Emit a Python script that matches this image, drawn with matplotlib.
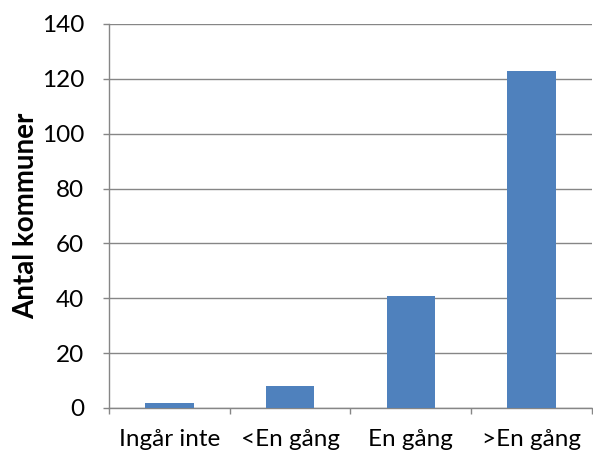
import matplotlib
matplotlib.use('Agg')
import matplotlib.pyplot as plt
import numpy as np

categories = ['Ingår inte', '<En gång', 'En gång', '>En gång']
values = [2, 8, 41, 123]
yticks = [0, 20, 40, 60, 80, 100, 120, 140]

plt.rcParams['font.family'] = ['Lato', 'DejaVu Sans']

fig = plt.figure(figsize=(5.93, 4.55), dpi=100)
ax = fig.add_axes([0.1838, 0.1033, 0.8145, 0.844])

x = np.arange(len(categories))
ax.bar(x, values, width=0.4, color='#4F81BD', zorder=3)

ax.set_xlim(-0.5, len(categories) - 0.5)
ax.set_ylim(0, 140)
ax.set_yticks(yticks)
ax.set_yticklabels([str(t) for t in yticks], fontsize=17.5)
ax.set_xticks(x)
ax.set_xticklabels(categories, fontsize=17.5)
ax.set_xticks(np.arange(len(categories) + 1) - 0.5, minor=True)
ax.tick_params(axis='x', which='major', length=0, pad=15)
ax.tick_params(axis='x', which='minor', length=4, color='#868686', width=1)
ax.tick_params(axis='y', length=4, color='#868686', width=1, pad=14)

ax.grid(axis='y', color='#868686', linewidth=1, zorder=0)
for s in ['top', 'right']:
    ax.spines[s].set_visible(False)
for s in ['left', 'bottom']:
    ax.spines[s].set_color('#868686')
    ax.spines[s].set_linewidth(1)

ax.set_ylabel('Antal kommuner', fontsize=20, fontweight='bold', labelpad=2)

fig.savefig('out.png', dpi=100)
